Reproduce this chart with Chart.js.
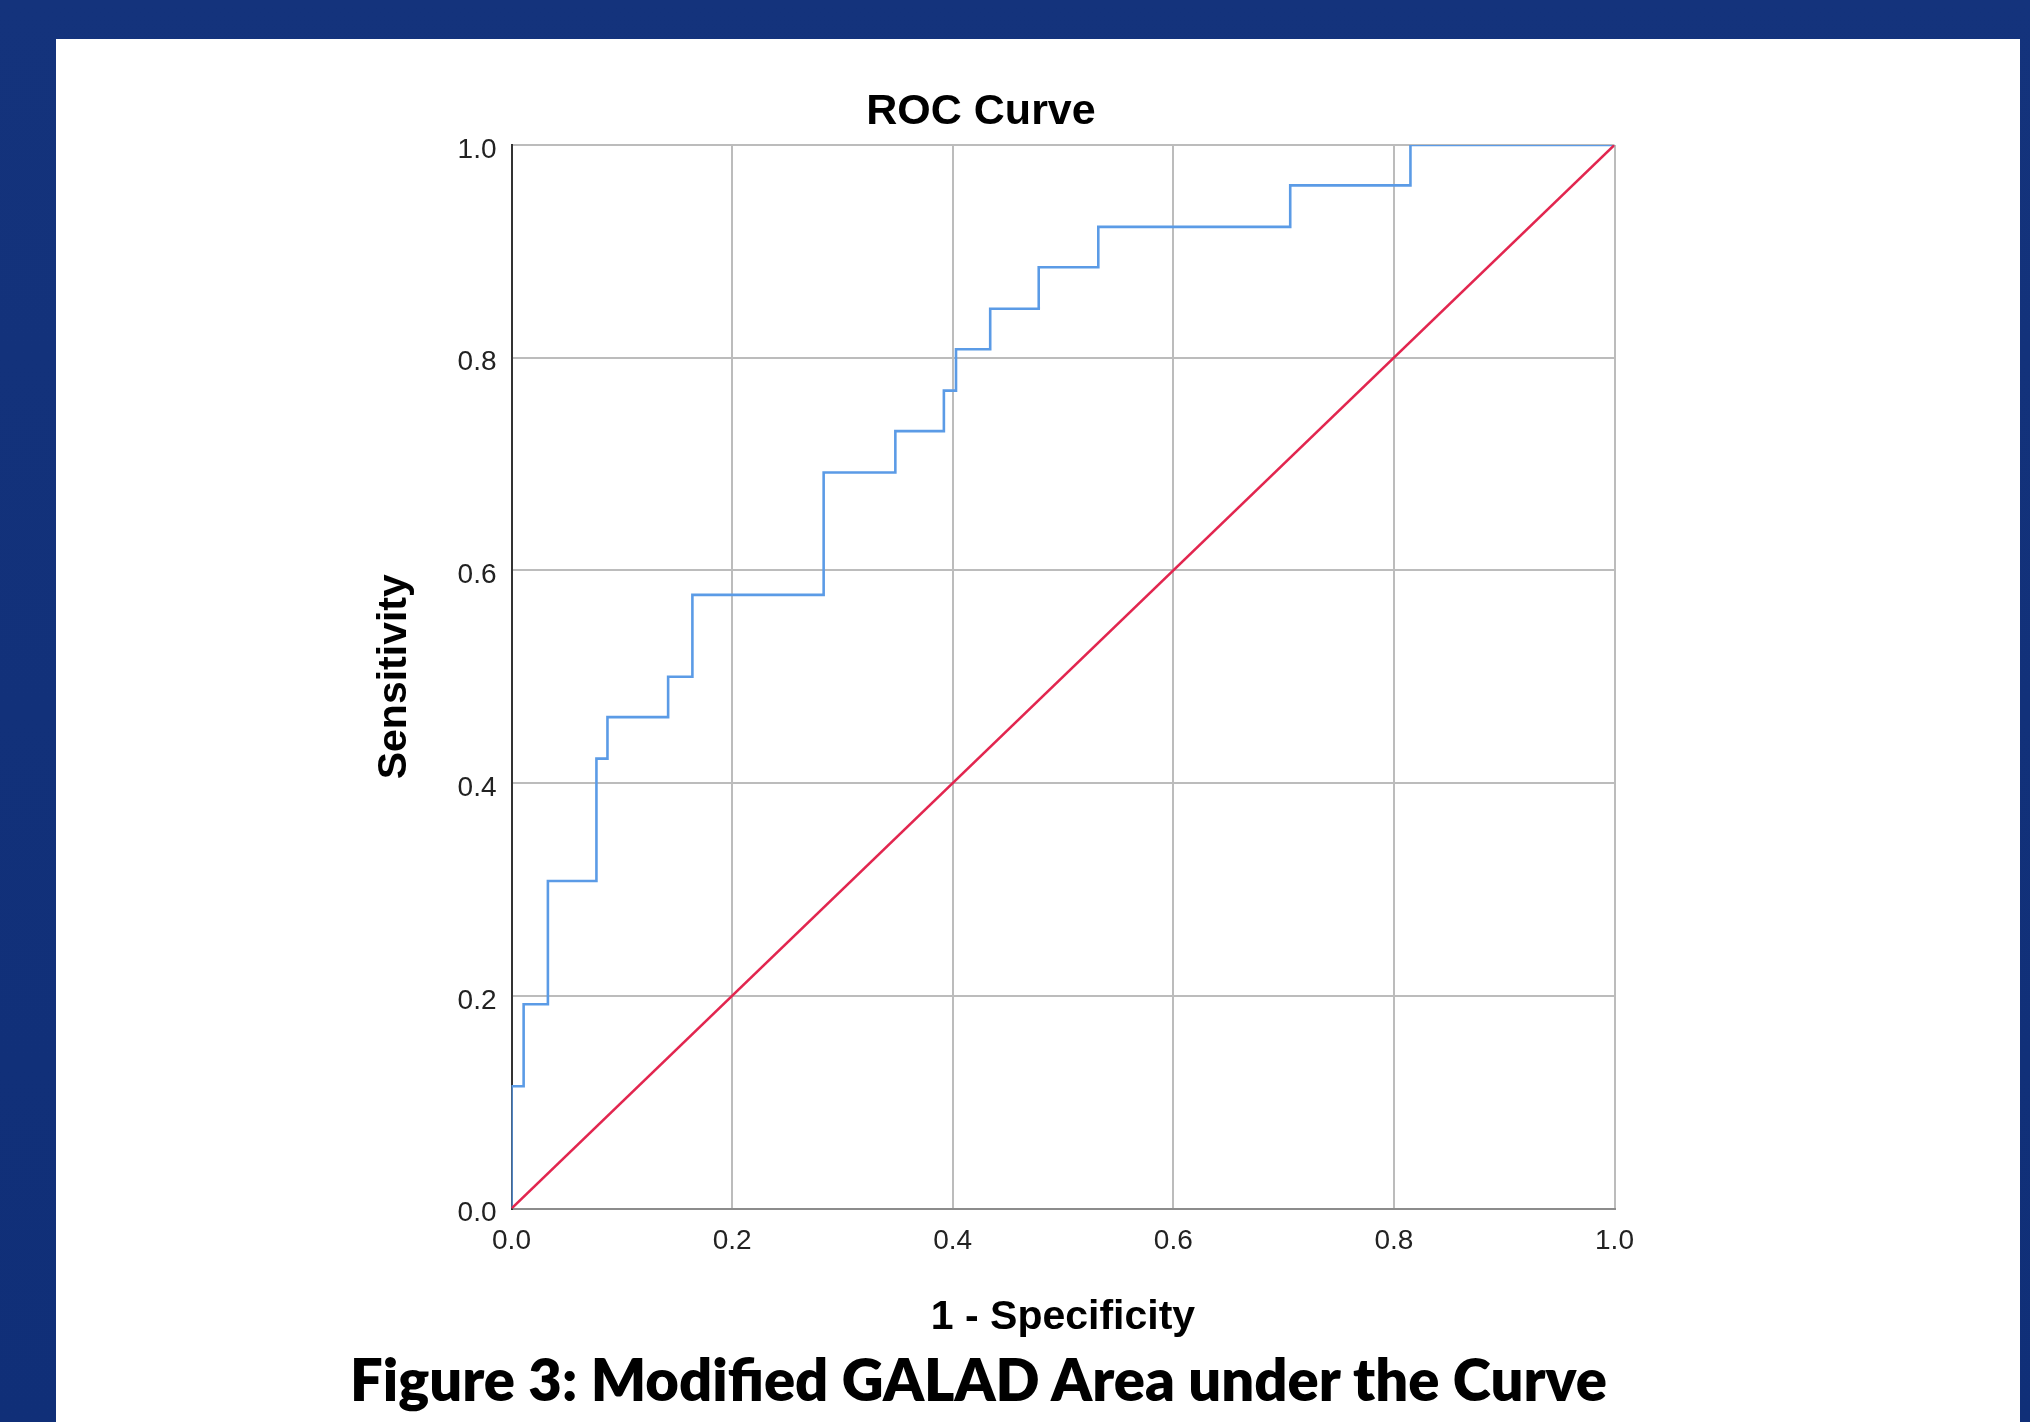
<!DOCTYPE html>
<html>
<head>
<meta charset="utf-8">
<script src="https://cdn.jsdelivr.net/npm/chart.js@4.4.1/dist/chart.umd.min.js"></script>
<style>
html,body{margin:0;padding:0;width:2030px;height:1422px;overflow:hidden;background:#11307a;}
#wrap{position:relative;width:2030px;height:1422px;}
#c{position:absolute;left:0;top:0;}
#caption{position:absolute;left:0;top:0;white-space:nowrap;font-family:Lato,"Open Sans",sans-serif;font-weight:800;font-size:58px;line-height:58px;color:#000;transform-origin:0 0;}
</style>
</head>
<body>
<div id="wrap">
<canvas id="c" width="2030" height="1422"></canvas>
<div id="caption"></div>
</div>
<script>
// ---- Data ----
const chartTitle = 'ROC Curve';
const xAxisTitle = '1 - Specificity';
const yAxisTitle = 'Sensitivity';
const captionText = 'Figure 3: Modified GALAD Area under the Curve';

// ROC curve corner points (1 - specificity, sensitivity)
const fpr = [0, 0, 0.011, 0.033, 0.077, 0.087, 0.142, 0.164, 0.283, 0.348, 0.392, 0.403, 0.434, 0.478, 0.532, 0.706, 0.815, 1.0];
const tpr = [0, 0.115, 0.192, 0.308, 0.423, 0.462, 0.500, 0.577, 0.692, 0.731, 0.769, 0.808, 0.846, 0.885, 0.923, 0.962, 1.0, 1.0];

// Reference (chance) line
const refX = [0, 1];
const refY = [0, 1];

const xTickLabels = ['0.0', '0.2', '0.4', '0.6', '0.8', '1.0'];
const yTickLabels = ['0.0', '0.2', '0.4', '0.6', '0.8', '1.0'];

// ---- Styles ----
const FONT = '"Liberation Sans", Arial, sans-serif';
const gridColor = (c) => (c.tick && c.tick.value === 0) ? 'rgba(0,0,0,0)' : '#bcbcbc';

const bgPlugin = {
  id: 'bg',
  beforeDraw(chart) {
    const c = chart.ctx;
    c.save();
    const g = c.createLinearGradient(0, 0, 0, chart.height);
    g.addColorStop(0, '#14337c');
    g.addColorStop(1, '#102f78');
    c.fillStyle = g;
    c.fillRect(0, 0, chart.width, chart.height);
    c.fillStyle = '#ffffff';
    c.fillRect(56, 39, 1964, 1383);
    c.restore();
  }
};

const chart = new Chart(document.getElementById('c'), {
  type: 'scatter',
  data: {
    datasets: [
      {
        label: 'Reference Line',
        data: refX.map((x, i) => ({ x: x, y: refY[i] })),
        showLine: true,
        borderColor: '#e2264f',
        borderWidth: 2.6,
        pointRadius: 0,
        fill: false,
        order: 0
      },
      {
        label: 'ROC',
        data: fpr.map((x, i) => ({ x: x, y: tpr[i] })),
        showLine: true,
        stepped: 'before',
        borderColor: '#5b9be6',
        borderWidth: 2.6,
        pointRadius: 0,
        fill: false,
        order: 1
      }
    ]
  },
  options: {
    responsive: false,
    animation: false,
    devicePixelRatio: 1,
    layout: { padding: { left: 347.5, right: 415.5, top: 86.6, bottom: 79.9 } },
    plugins: {
      legend: { display: false },
      tooltip: { enabled: false },
      title: {
        display: true,
        text: chartTitle,
        color: '#000',
        font: { family: FONT, size: 43, weight: 'bold' },
        padding: { top: 0, bottom: 6.8 }
      }
    },
    scales: {
      x: {
        type: 'linear', position: 'bottom', min: 0, max: 1,
        ticks: {
          stepSize: 0.2, autoSkip: false, maxRotation: 0, padding: 16,
          color: '#222', font: { family: FONT, size: 28 },
          callback: (v, i) => xTickLabels[i]
        },
        grid: { color: gridColor, lineWidth: 2, drawTicks: false },
        border: { display: true, color: '#8c8c8c', width: 2 },
        title: {
          display: true, text: xAxisTitle, color: '#000',
          font: { family: FONT, size: 41, weight: 'bold' },
          padding: { top: 0, bottom: 0 }
        },
        afterFit(s) { s.height = 133.6; }
      },
      y: {
        type: 'linear', position: 'left', min: 0, max: 1,
        ticks: {
          stepSize: 0.2, autoSkip: false, padding: 15, labelOffset: 5,
          color: '#222', font: { family: FONT, size: 28 },
          callback: (v, i) => yTickLabels[i]
        },
        grid: { color: gridColor, lineWidth: 2, drawTicks: false },
        border: { display: true, color: '#333', width: 2 },
        title: {
          display: true, text: yAxisTitle, color: '#000',
          font: { family: FONT, size: 41, weight: 'bold' },
          padding: { top: 22.5, bottom: 0 }
        },
        afterFit(s) { s.width = 164; }
      }
    }
  },
  plugins: [bgPlugin]
});

// ---- Caption ----
(function () {
  const cap = document.getElementById('caption');
  cap.textContent = captionText;
  const cs = getComputedStyle(cap);
  const mc = document.createElement('canvas').getContext('2d');
  mc.font = '800 58px ' + cs.fontFamily;
  const m = mc.measureText(captionText);
  const w = m.width;
  const asc = m.fontBoundingBoxAscent || 57;
  const desc = m.fontBoundingBoxDescent || 12;
  const lh = 58;
  const baseInBox = (lh - (asc + desc)) / 2 + asc;
  const targetW = 1260, cx = 980, baseline = 1401.7;
  const s = targetW / w;
  cap.style.transform = 'translate(' + (cx - targetW / 2) + 'px,' + (baseline - baseInBox) + 'px) scaleX(' + s + ')';
})();
</script>
</body>
</html>
